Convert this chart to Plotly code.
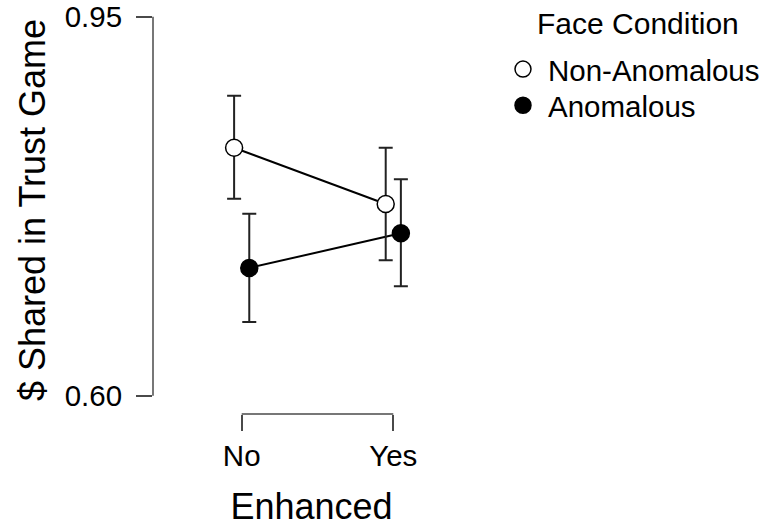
import plotly.graph_objects as go

# Enhanced condition (x categories)
enhanced = ["No", "Yes"]
enhanced_pos = [1, 2]

# Mean $ shared with lower / upper error limits, per face condition
non_anom_mean = [0.829, 0.777]
non_anom_lower = [0.782, 0.725]
non_anom_upper = [0.877, 0.829]

anom_mean = [0.718, 0.750]
anom_lower = [0.668, 0.701]
anom_upper = [0.768, 0.800]

y_ticks = [0.60, 0.95]
y_tick_text = ["0.60", "0.95"]

dodge = 0.05
FONT = "Liberation Sans, Arial, sans-serif"
AXIS_COLOR = "#4a4a4a"
TICK_SIZE = 29.5
TITLE_SIZE = 36

x_na = [p - dodge for p in enhanced_pos]
x_an = [p + dodge for p in enhanced_pos]


def err(mean, lower, upper):
    return dict(
        type="data",
        symmetric=False,
        array=[u - m for m, u in zip(mean, upper)],
        arrayminus=[m - l for m, l in zip(mean, lower)],
        color="#222222",
        thickness=2,
        width=7,
    )


fig = go.Figure()

# connecting lines (drawn first, underneath markers)
fig.add_trace(go.Scatter(x=x_na, y=non_anom_mean, mode="lines",
                         line=dict(color="black", width=2),
                         showlegend=False, hoverinfo="skip"))
fig.add_trace(go.Scatter(x=x_an, y=anom_mean, mode="lines",
                         line=dict(color="black", width=2),
                         showlegend=False, hoverinfo="skip"))

# points with error bars, one legend box per face condition
fig.add_trace(go.Scatter(
    x=x_na, y=non_anom_mean, mode="markers", name="Non-Anomalous",
    marker=dict(symbol="circle", size=17, color="white",
                line=dict(color="black", width=1.5)),
    error_y=err(non_anom_mean, non_anom_lower, non_anom_upper),
    legend="legend",
))
fig.add_trace(go.Scatter(
    x=x_an, y=anom_mean, mode="markers", name="Anomalous",
    marker=dict(symbol="circle", size=17, color="black",
                line=dict(color="black", width=1.5)),
    error_y=err(anom_mean, anom_lower, anom_upper),
    legend="legend2",
))

# range-frame axis lines
fig.add_shape(type="line", xref="paper", yref="y", x0=0, x1=0,
              y0=y_ticks[0], y1=y_ticks[-1],
              line=dict(color=AXIS_COLOR, width=1.5))
fig.add_shape(type="line", xref="x", yref="paper",
              x0=enhanced_pos[0], x1=enhanced_pos[-1], y0=0, y1=0,
              line=dict(color=AXIS_COLOR, width=1.5))

# legend heading
fig.add_annotation(text="Face Condition", xref="paper", yref="paper",
                   x=1.530, y=0.958, xanchor="center", yanchor="middle",
                   showarrow=False, font=dict(size=30))

legend_common = dict(
    x=1.0883, xanchor="left", yanchor="middle",
    font=dict(size=TICK_SIZE),
    bgcolor="rgba(0,0,0,0)",
    itemwidth=40,
)

fig.update_layout(
    width=768, height=527,
    margin=dict(l=153, r=298, t=6, b=113, autoexpand=False),
    paper_bgcolor="white", plot_bgcolor="white",
    font=dict(family=FONT, color="black", size=TICK_SIZE),
    xaxis=dict(
        range=[0.415, 2.506],
        tickvals=enhanced_pos, ticktext=enhanced,
        ticks="outside", ticklen=16, tickwidth=1.5, tickcolor=AXIS_COLOR,
        showline=False, showgrid=False, zeroline=False,
        tickfont=dict(size=TICK_SIZE),
        title=dict(text="Enhanced", font=dict(size=TITLE_SIZE), standoff=31),
    ),
    yaxis=dict(
        range=[0.5831, 0.9599],
        tickvals=y_ticks, ticktext=y_tick_text,
        ticks="outside", ticklen=16, tickwidth=1.5, tickcolor=AXIS_COLOR,
        showline=False, showgrid=False, zeroline=False,
        tickfont=dict(size=TICK_SIZE),
        ticklabelstandoff=8,
        title=dict(text="$ Shared in Trust Game", font=dict(size=TITLE_SIZE), standoff=8),
    ),
    legend=dict(y=0.8445, **legend_common),
    legend2=dict(y=0.756, **legend_common),
)

fig.write_html("out.html")
